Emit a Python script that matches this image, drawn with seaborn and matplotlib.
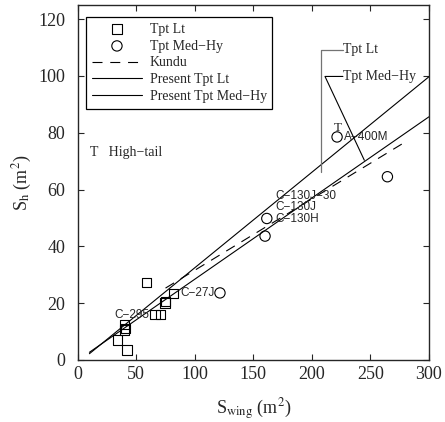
import matplotlib
matplotlib.use("Agg")
import matplotlib.pyplot as plt
import seaborn as sns
import pandas as pd

# ---- data ----
lt_x = [34, 42, 40, 40, 41, 59, 66, 70.5, 74.5, 75, 82]
lt_y = [7, 3.5, 10.5, 12.5, 11, 27.3, 16, 16, 20, 20.5, 23.5]
mh_x = [161.5, 160, 121.5, 221.5, 264.5]
mh_y = [49.8, 43.6, 23.6, 78.5, 64.5]
kundu_x = [75, 280]
kundu_y = [25.3, 76.8]
lt_fit_x = [10, 300]
lt_fit_y = [2.2, 99.7]
mh_fit_x = [10, 300]
mh_fit_y = [2.7, 85.6]
labels = ["C-130J-30", "C-130J", "C-130H", "A-400M", "C-27J", "C-295"]
label_x = [168.5, 168.5, 168.5, 227.4, 87.4, 31.3]
label_y = [57.7, 54.0, 49.5, 78.5, 23.5, 15.9]
x_ticks = [0, 50, 100, 150, 200, 250, 300]
y_ticks = [0, 20, 40, 60, 80, 100, 120]

sns.set_style("ticks")
plt.rcParams["font.family"] = ["Liberation Serif", "DejaVu Serif"]
plt.rcParams["mathtext.fontset"] = "stix"
plt.rcParams["xtick.direction"] = "in"
plt.rcParams["ytick.direction"] = "in"

fig = plt.figure(figsize=(4.45, 4.22), dpi=100)
ax = fig.add_axes([0.1746, 0.147, 0.7894, 0.8415])

lt_df = pd.DataFrame({"x": lt_x, "y": lt_y})
mh_df = pd.DataFrame({"x": mh_x, "y": mh_y})
sns.scatterplot(data=lt_df, x="x", y="y", marker="s", s=45, facecolor="none",
                edgecolor="black", linewidth=0.8, ax=ax, label="Tpt Lt", zorder=3)
sns.scatterplot(data=mh_df, x="x", y="y", marker="o", s=55, facecolor="none",
                edgecolor="black", linewidth=0.8, ax=ax, label="Tpt Med\u2212Hy", zorder=3)
sns.lineplot(x=kundu_x, y=kundu_y, ax=ax, color="black", lw=0.8,
             linestyle=(0, (9, 7)), label="Kundu")
sns.lineplot(x=lt_fit_x, y=lt_fit_y, ax=ax, color="black", lw=0.8,
             label="Present Tpt Lt")
sns.lineplot(x=mh_fit_x, y=mh_fit_y, ax=ax, color="black", lw=0.8,
             label="Present Tpt Med\u2212Hy")

# callouts
ax.plot([207.8, 207.8, 226.5], [66, 109.2, 109.2], color="0.45", lw=0.9)
ax.text(226.8, 109.2, "Tpt Lt", fontsize=10, va="center", ha="left")
ax.plot([244.8, 211.2, 226.5], [70.3, 99.8, 99.8], color="black", lw=0.8)
ax.text(226.8, 99.8, "Tpt Med\u2212Hy", fontsize=10, va="center", ha="left")

for t, x, y in zip(labels, label_x, label_y):
    ax.text(x, y, t.replace("-", "\u2212"), fontsize=8.5, va="center", ha="left",
            family=["Liberation Sans", "DejaVu Sans"])
ax.text(222, 81.8, "T", fontsize=9.5, va="center", ha="center")
ax.text(10.5, 73, "T   High\u2212tail", fontsize=10, va="center", ha="left")

ax.set_xlim(0, 300)
ax.set_ylim(0, 125)
ax.set_xticks(x_ticks)
ax.set_yticks(y_ticks)
ax.tick_params(top=True, right=True, labelsize=13, length=4, width=0.8)
ax.tick_params(axis="x", pad=4)
ax.tick_params(axis="y", pad=9)
for s in ax.spines.values():
    s.set_visible(True)
    s.set_linewidth(1.0)
ax.set_xlabel(r"S$_{\rm wing}$ (m$^2$)", fontsize=13, labelpad=10)
ax.set_ylabel(r"S$_{\rm h}$ (m$^2$)", fontsize=13, labelpad=3)

leg = ax.legend(loc="upper left", bbox_to_anchor=(0.005, 0.985), fontsize=10,
                handlelength=3.6, handletextpad=0.55, labelspacing=0.28,
                fancybox=False, edgecolor="black", framealpha=1,
                borderpad=0.4)
leg.get_frame().set_linewidth(0.9)

fig.savefig("out.png", dpi=100)
